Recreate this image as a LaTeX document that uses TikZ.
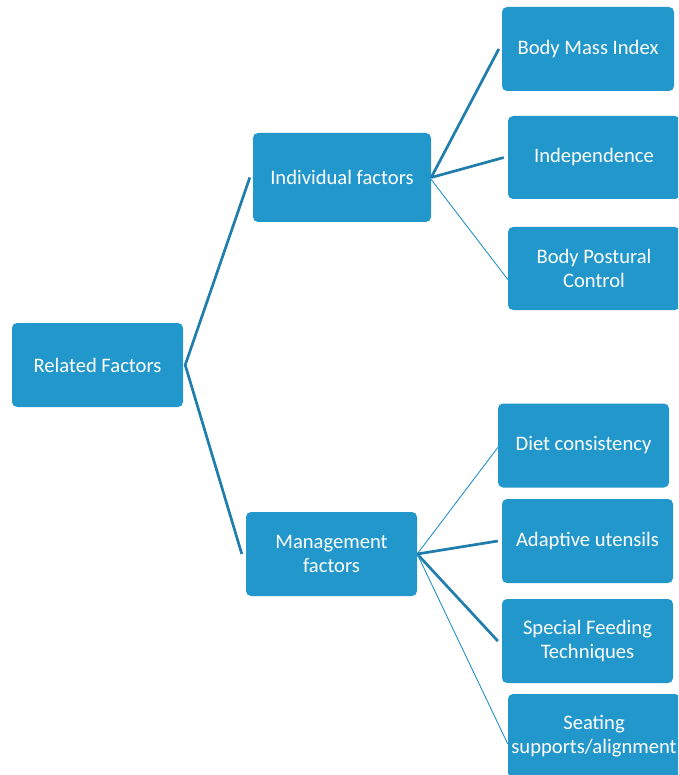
\documentclass[tikz,border=0pt]{standalone}
\usepackage{fontspec}
\setmainfont{Carlito}
\definecolor{boxblue}{RGB}{33,151,204}
\definecolor{thickline}{RGB}{31,126,172}
\definecolor{thinline}{RGB}{38,146,200}
\tikzset{
  box/.style={fill=boxblue, draw=none, rounded corners=5pt, text=white,
    font=\fontsize{20.6}{23.5}\selectfont, align=center, inner sep=0pt,
    minimum width=172pt, minimum height=84pt},
  thick link/.style={draw=thickline, line width=2.7pt},
  thin link/.style={draw=thinline, line width=0.9pt}
}
\begin{document}
\begin{tikzpicture}[x=1pt,y=-1pt]
\useasboundingbox (0,0) rectangle (678,775);
\clip (0,0) rectangle (678,775);
\node[box, minimum width=171pt] (rel) at (97.5,365) {Related Factors};
\node[box, minimum width=178pt, minimum height=89pt] (ind) at (342,177.5) {Individual factors};
\node[box, minimum width=171pt] (man) at (331.5,554) {Management\\factors};
\node[box] (bmi) at (588,49) {Body Mass Index};
\node[box, minimum height=83pt] (indep) at (594,157.5) {Independence};
\node[box, minimum height=83pt] (post) at (594,268.5) {Body Postural\\Control};
\node[box, minimum width=171pt] (diet) at (583.5,445.5) {Diet consistency};
\node[box, minimum width=171pt] (adap) at (587.5,541) {Adaptive utensils};
\node[box, minimum width=171pt] (spec) at (587.5,641) {Special Feeding\\Techniques};
\node[box] (seat) at (594,736) {Seating\\supports/alignment};
% connectors
\draw[thick link, line join=miter] ([xshift=-3pt]ind.west) -- ([xshift=2pt]rel.east) -- ([xshift=-4pt]man.west);
\draw[thick link] (ind.east) -- ([xshift=-3pt]bmi.west);
\draw[thick link] (ind.east) -- ([xshift=-4pt]indep.west);
\draw[thin link] ([yshift=-2pt]ind.east) -- ([yshift=-11pt]post.west);
\draw[thin link] (man.east) -- ([yshift=-2pt]diet.west);
\draw[thick link] (man.east) -- ([xshift=-4pt]adap.west);
\draw[thick link] (man.east) -- ([xshift=-4pt]spec.west);
\draw[thin link] (man.east) -- ([yshift=-8pt]seat.west);
\end{tikzpicture}
\end{document}
